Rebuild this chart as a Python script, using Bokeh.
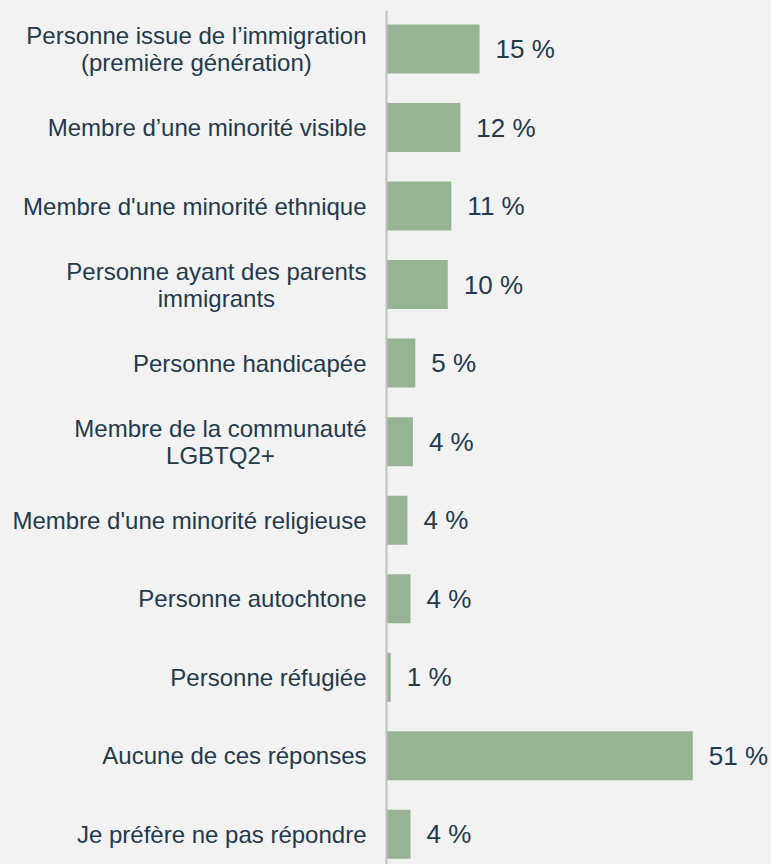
from bokeh.plotting import figure
from bokeh.models import Range1d, Span, ColumnDataSource
from bokeh.core.properties import value
from bokeh.embed import file_html
from bokeh.resources import INLINE

categories = [
    "Personne issue de l’immigration\n(première génération)",
    "Membre d’une minorité visible",
    "Membre d'une minorité ethnique",
    "Personne ayant des parents\nimmigrants",
    "Personne handicapée",
    "Membre de la communauté\nLGBTQ2+",
    "Membre d'une minorité religieuse",
    "Personne autochtone",
    "Personne réfugiée",
    "Aucune de ces réponses",
    "Je préfère ne pas répondre",
]
values = [15.5, 12.3, 10.8, 10.2, 4.8, 4.4, 3.5, 4.0, 0.7, 51.0, 4.0]
value_labels = ["15 %", "12 %", "11 %", "10 %", "5 %", "4 %", "4 %", "4 %", "1 %", "51 %", "4 %"]

BG = "#f2f2f2"
BAR = "#96b393"
TEXT = "#233a4e"
FONT = "Liberation Sans"

W, H = 771, 864
px_per_pct = 6.006
axis_px = 386
row_px = 78.53
top_border = 10

pos = list(range(len(categories)))
src = ColumnDataSource(dict(y=pos, v=values, cat=categories, lab=value_labels))

frame_h = H - top_border
top_val = -(48.5 - top_border) / row_px
bottom_val = top_val + frame_h / row_px

p = figure(width=W, height=H, output_backend="svg", toolbar_location=None,
           x_axis_type=None, y_axis_type=None,
           x_range=Range1d(-axis_px / px_per_pct, (W - axis_px) / px_per_pct),
           y_range=Range1d(bottom_val, top_val),
           min_border_left=0, min_border_right=0, min_border_bottom=0,
           min_border_top=top_border)
p.background_fill_color = BG
p.border_fill_color = BG
p.outline_line_color = None
p.grid.visible = False

p.hbar(y="y", left=0, right="v", height=0.624, source=src,
       fill_color=BAR, line_color=None)

p.add_layout(Span(location=0, dimension="height", line_color="#c0c0c0", line_width=2))

p.text(x="v", y="y", text="lab", source=src, x_offset=16,
       text_align="left", text_baseline="middle",
       text_font=value(FONT), text_font_size="26px", text_color=TEXT)

p.text(x=0, y="y", text="cat", source=src, x_offset=-20,
       text_align="center", anchor="center_right", text_baseline="middle",
       text_line_height=1.0,
       text_font=value(FONT), text_font_size="24px", text_color=TEXT)

html = file_html(p, INLINE)
html = html.replace("</head>", "<style>html,body{background:#f2f2f2;}</style></head>", 1)
open("out.html", "w").write(html)
